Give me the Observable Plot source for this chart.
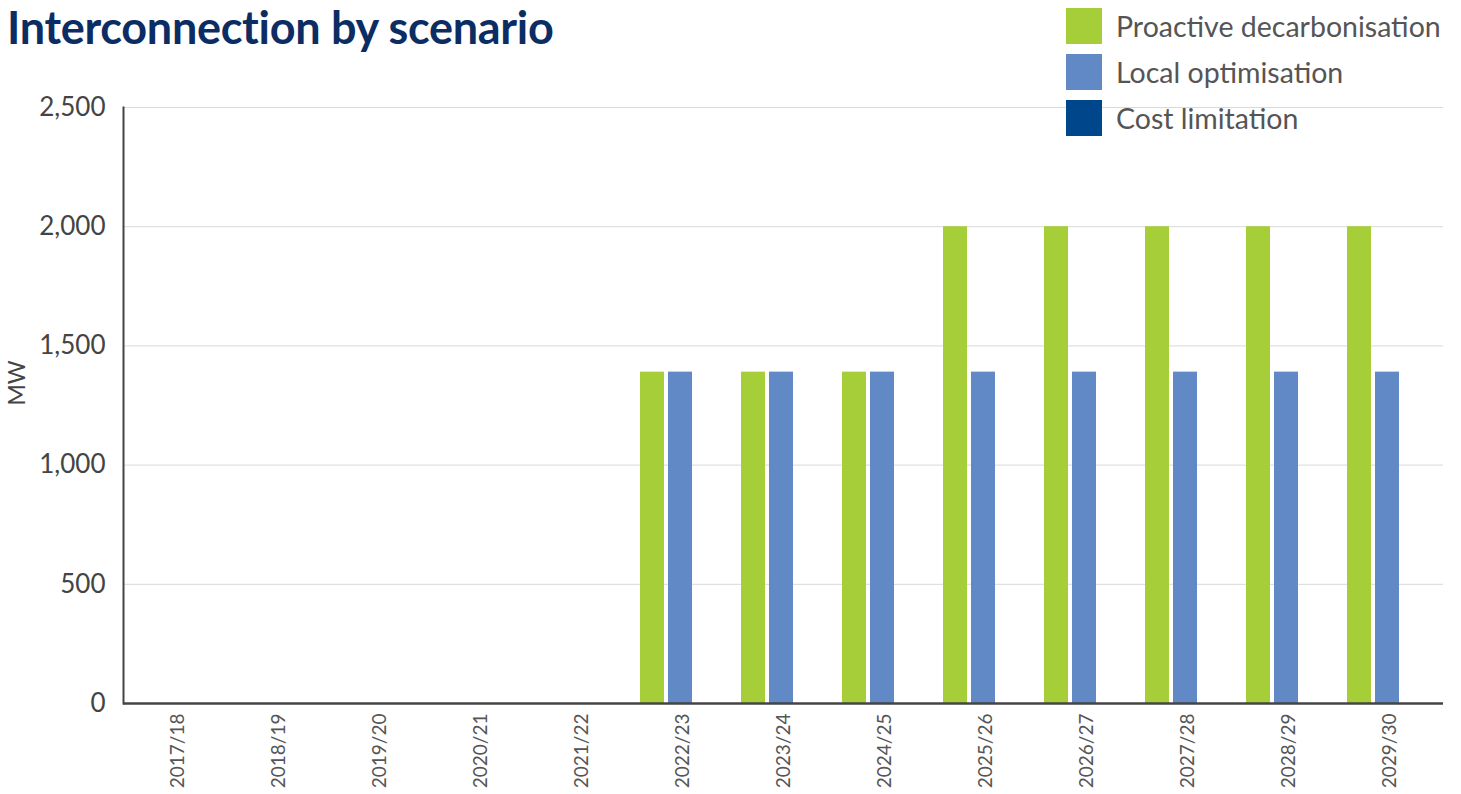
<!DOCTYPE html>
<html>
<head>
<meta charset="utf-8">
<script src="https://cdn.jsdelivr.net/npm/d3@7"></script>
<script src="https://cdn.jsdelivr.net/npm/@observablehq/plot@0.6"></script>
<style>
  html, body { margin: 0; padding: 0; background: #fff; }
  #wrap { position: relative; width: 1461px; height: 794px; font-family: Lato, "Open Sans", sans-serif; }
  #title { position: absolute; left: 7px; top: 3px; font-size: 45px; line-height: 48px; font-weight: 700; color: #0c2d63; white-space: nowrap; letter-spacing: -0.3px; }
  #legend { position: absolute; left: 1066px; top: 8px; }
  .item { display: flex; align-items: center; height: 36px; margin-bottom: 10px; }
  .sw { width: 36px; height: 36px; margin-right: 14px; }
  .lab { font-size: 28.5px; color: #555; white-space: nowrap; }
  #chart { position: absolute; left: 0; top: 0; }
</style>
</head>
<body>
<div id="wrap">
  <div id="chart"></div>
  <div id="title">Interconnection by scenario</div>
  <div id="legend"></div>
</div>
<script>
const years = ["2017/18","2018/19","2019/20","2020/21","2021/22","2022/23","2023/24","2024/25","2025/26","2026/27","2027/28","2028/29","2029/30"];
const scenarios = ["Proactive decarbonisation","Local optimisation","Cost limitation"];
const colors = ["#a6ce39","#6189c6","#00468b"];
const proactive = [0,0,0,0,0,1390,1390,1390,2000,2000,2000,2000,2000];
const local =     [0,0,0,0,0,1390,1390,1390,1390,1390,1390,1390,1390];
const cost =      [0,0,0,0,0,0,0,0,0,0,0,0,0];
const yTicks = [0,500,1000,1500,2000,2500];

const series = [proactive, local, cost];
const offsets = [-30, -2, 26];

const legend = document.getElementById("legend");
scenarios.forEach((s, i) => {
  const it = document.createElement("div");
  it.className = "item";
  it.innerHTML = `<div class="sw" style="background:${colors[i]}"></div><div class="lab">${s}</div>`;
  legend.appendChild(it);
});

const barMarks = series.map((vals, i) =>
  Plot.barY(years.map((y, j) => ({year: y, value: vals[j], scenario: scenarios[i]})), {
    x: "year", y: "value", fill: colors[i], dx: offsets[i]
  })
);

const chart = Plot.plot({
  width: 1461,
  height: 794,
  marginTop: 107,
  marginBottom: 91,
  marginLeft: 123,
  marginRight: 18,
  style: {fontFamily: "Lato, 'Open Sans', sans-serif", color: "#555", background: "transparent"},
  x: {domain: years, paddingInner: 0.7636, paddingOuter: 0.3818},
  y: {domain: [0, 2500]},
  marks: [
    Plot.gridY(yTicks, {stroke: "#d9d9d9", strokeOpacity: 1, strokeWidth: 1}),
    ...barMarks,
    Plot.ruleY([0], {stroke: "#444", strokeWidth: 2.5}),
    Plot.frame({anchor: "left", stroke: "#444", strokeWidth: 2}),
    Plot.axisY(yTicks, {tickSize: 0, tickPadding: 18, tickFormat: d3.format(","), fontSize: 26, fill: "#444", label: null}),
    Plot.text(["MW"], {frameAnchor: "left", rotate: -90, dx: -106, fontSize: 23, fill: "#444"}),
    Plot.axisX({tickSize: 0, tickRotate: -90, tickPadding: 10, fontSize: 19, fill: "#555", label: null})
  ]
});
document.getElementById("chart").appendChild(chart);
</script>
</body>
</html>
